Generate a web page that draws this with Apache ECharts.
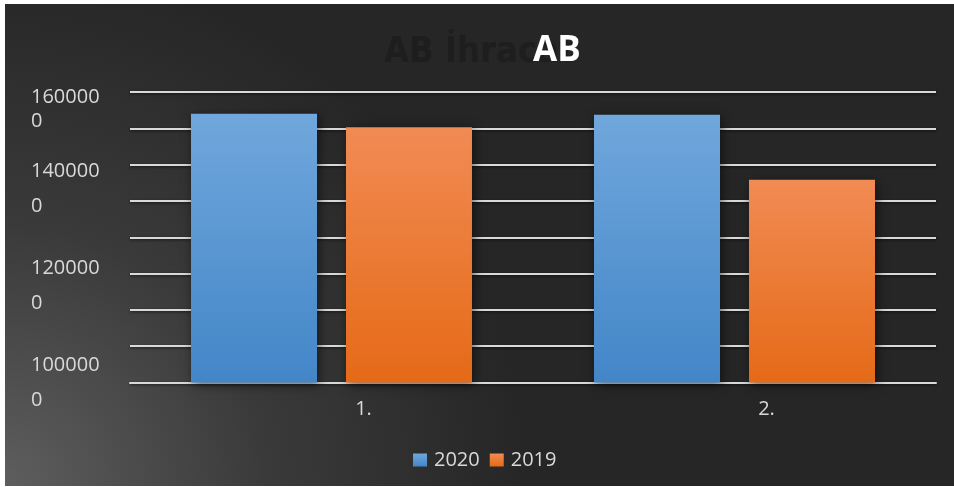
<!DOCTYPE html>
<html>
<head>
<meta charset="utf-8">
<script src="https://cdn.jsdelivr.net/npm/echarts@6/dist/echarts.min.js"></script>
<style>
html,body{margin:0;padding:0;background:#ffffff;width:954px;height:487px;overflow:hidden;}
#chart{position:absolute;left:5px;top:4px;width:949px;height:482px;
background:radial-gradient(circle at 0% 100%, #5e5e5e 0px, #3a3a3a 260px, #262626 520px);}
</style>
</head>
<body>
<div id="chart"></div>
<script>
var categories = ['1.', '2.'];
var seriesNames = ['2020', '2019'];
var values2020 = [1555000, 1553000];
var values2019 = [1527000, 1419000];
var yTickValues = [1000000, 1200000, 1400000, 1600000];
var titleText = 'AB';
var ghostTitleText = 'AB İhracat';

var chart = echarts.init(document.getElementById('chart'), null, {renderer: 'canvas'});
var font = '"Open Sans", "Noto Sans", sans-serif';

function grad(top, bottom) {
  return new echarts.graphic.LinearGradient(0, 0, 0, 1, [
    {offset: 0, color: top}, {offset: 1, color: bottom}
  ]);
}

var option = {
  backgroundColor: 'transparent',
  animation: false,
  title: [
    {text: ghostTitleText, left: 374, top: 26,
     textStyle: {color: '#1e1e1e', fontSize: 36, fontWeight: 'bold', fontFamily: '"DejaVu Sans Condensed", "DejaVu Sans", sans-serif'}},
    {text: titleText, left: 523, top: 25,
     textStyle: {color: '#ffffff', fontSize: 35, fontWeight: 'bold', fontFamily: font}}
  ],
  legend: {
    data: seriesNames,
    left: 403, top: 441,
    itemWidth: 14, itemHeight: 13, itemGap: 10,
    icon: 'rect',
    textStyle: {color: '#d9d9d9', fontSize: 20, fontFamily: font, padding: [0, 0, 0, 2]}
  },
  grid: {left: 125, right: 18, top: 88, bottom: 103.5, containLabel: false},
  xAxis: {
    type: 'category',
    data: categories,
    axisLine: {show: true, lineStyle: {color: '#d9d9d9', width: 2}},
    axisTick: {show: false},
    axisLabel: {color: '#d9d9d9', fontSize: 20, fontFamily: font, margin: 17, padding: [0, 0, 0, 64]},
    splitLine: {show: false}
  },
  yAxis: [
    {
      type: 'value',
      min: 1000000, max: 1600000, interval: 200000,
      position: 'left',
      axisLine: {show: false}, axisTick: {show: false},
      splitLine: {show: false},
      axisLabel: {
        align: 'left', margin: 99,
        color: '#d9d9d9', fontSize: 20, fontFamily: font,
        formatter: function (v) {
          if (yTickValues.indexOf(v) < 0) return '';
          var s = String(v);
          var a = s.slice(0, s.length - 1), b = s.slice(s.length - 1);
          if (v === 1600000) return '{s| }\n{u|' + a + '}\n{u|' + b + '}';
          return '{t|' + a + '}\n{t|' + b + '}';
        },
        rich: {
          s: {lineHeight: 34, fontSize: 20, fontFamily: font, color: '#d9d9d9'},
          u: {lineHeight: 24, fontSize: 20, fontFamily: font, color: '#d9d9d9'},
          t: {lineHeight: 35, fontSize: 20, fontFamily: font, color: '#d9d9d9'}
        }
      }
    },
    {
      type: 'value',
      min: 0, max: 8, interval: 1,
      position: 'left',
      axisLine: {show: false}, axisTick: {show: false},
      axisLabel: {show: false},
      splitLine: {show: true, lineStyle: {color: '#d9d9d9', width: 2, shadowColor: 'rgba(0,0,0,0.6)', shadowBlur: 3, shadowOffsetY: 1}}
    }
  ],
  series: [
    {
      name: seriesNames[0], type: 'bar', yAxisIndex: 0,
      data: values2020, barWidth: 126, barGap: '23%',
      itemStyle: {color: grad('#70a7dc', '#4386c8'), shadowColor: 'rgba(0,0,0,0.55)', shadowBlur: 10, shadowOffsetX: 2, shadowOffsetY: 2}
    },
    {
      name: seriesNames[1], type: 'bar', yAxisIndex: 0,
      data: values2019, barWidth: 126, barGap: '23%',
      itemStyle: {color: grad('#f18b54', '#e56a17'), shadowColor: 'rgba(0,0,0,0.55)', shadowBlur: 10, shadowOffsetX: 2, shadowOffsetY: 2}
    }
  ]
};
chart.setOption(option);
</script>
</body>
</html>
